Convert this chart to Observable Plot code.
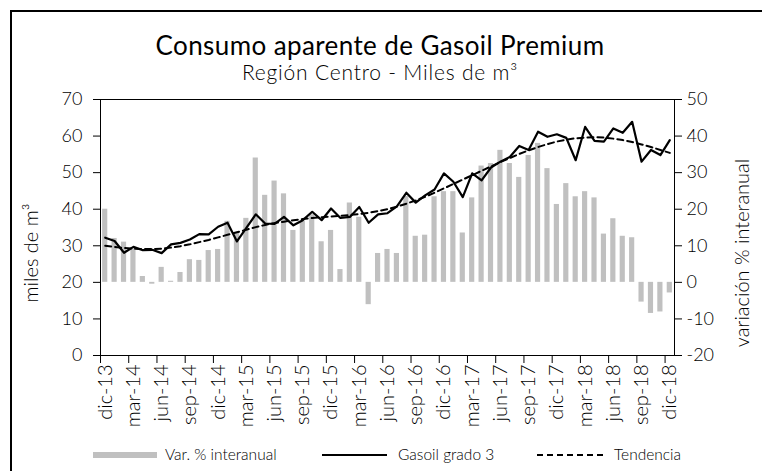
<!DOCTYPE html>
<html>
<head>
<meta charset="utf-8">
<script src="https://cdn.jsdelivr.net/npm/d3@7"></script>
<script src="https://cdn.jsdelivr.net/npm/@observablehq/plot@0.6"></script>
<style>
  body { margin: 0; background: #fff; }
  #wrap { position: relative; width: 762px; height: 471px; overflow: hidden; background: #fff; font-family: Lato, "Open Sans", sans-serif; color: #000; }
  #frame { position: absolute; left: 10px; top: 10px; width: 800px; height: 520px; border-left: 2px solid #000; border-top: 2px solid #000; }
  .abs { position: absolute; white-space: nowrap; }
  #title { left: 0; width: 760px; top: 29px; text-align: center; font-size: 26px; letter-spacing: 0.4px; }
  #subtitle { left: 0; width: 760px; top: 59px; text-align: center; font-size: 21px; font-weight: 300; letter-spacing: 0.8px; }
  #chart { position: absolute; left: 0; top: 0; }
  .ylab { font-size: 20px; font-weight: 300; transform-origin: center; transform: translate(-50%, -50%) rotate(-90deg); }
  .leg { font-size: 15.5px; top: 445px; font-weight: 300; }
  .sw { position: absolute; }
</style>
</head>
<body>
<div id="wrap">
  <div id="frame"></div>
  <div id="title" class="abs">Consumo aparente de Gasoil Premium</div>
  <div id="subtitle" class="abs">Región Centro - Miles de m³</div>
  <div id="chart"></div>
  <div class="abs ylab" style="left:30px; top:253px;">miles de m³</div>
  <div class="abs ylab" style="left:741px; top:253px;">variación % interanual</div>
  <div class="sw" style="left:93px; top:452px; width:64px; height:6px; background:#c0c0c0;"></div>
  <div class="abs leg" style="left:165px;">Var. % interanual</div>
  <div class="sw" style="left:322px; top:454px; width:65px; height:0; border-top:2px solid #000;"></div>
  <div class="abs leg" style="left:398px;">Gasoil grado 3</div>
  <div class="sw" style="left:537px; top:454px; width:66px; height:0; border-top:2px dashed #000;"></div>
  <div class="abs leg" style="left:614px;">Tendencia</div>
</div>
<script>
const monthNames = ["ene","feb","mar","abr","may","jun","jul","ago","sep","oct","nov","dic"];
const startYear = 2013, startMonth = 11; // dic-13
const nMonths = 61;
const months = Array.from({length: nMonths}, (_, i) => {
  const m = (startMonth + i) % 12;
  const y = startYear + Math.floor((startMonth + i) / 12);
  return monthNames[m] + "-" + String(y).slice(2);
});

// Var. % interanual (right axis)
const varInteranual = [
  20, 12, 11, 9, 1.6, -0.5, 4.1, 0.3, 2.7, 6.2, 6.0, 8.7, 9.0,
  16.7, 13.7, 17.5, 34, 23.8, 27.7, 24.2, 14.2, 16.7, 18.5, 11.1, 14.2,
  3.5, 21.7, 17.8, -6.1, 7.9, 9.0, 7.9, 23.5, 12.6, 12.9, 23.4, 24.8,
  24.8, 13.5, 23.1, 31.8, 32.5, 36.1, 32.5, 28.7, 34.7, 38, 31.1, 21.3,
  27, 23.4, 24.8, 23.1, 13.2, 17.4, 12.6, 12.2, -5.4, -8.5, -8.1, -2.9
];

// Gasoil grado 3 (miles de m3, left axis)
const gasoil = [
  32.2, 31.3, 28.1, 29.7, 28.8, 28.9, 28.0, 30.4, 30.8, 31.7, 33.2, 33.1, 35.2,
  36.3, 31.2, 34.9, 38.6, 36.1, 36.0, 37.9, 35.6, 37.0, 39.3, 37.0, 40.2,
  37.6, 37.9, 40.6, 36.3, 38.6, 38.9, 40.8, 44.5, 41.8, 43.8, 45.4, 49.8,
  47.5, 43.3, 49.8, 47.9, 51.4, 53.0, 54.3, 57.3, 56.2, 61.2, 59.8, 60.5,
  59.5, 53.4, 62.5, 58.7, 58.5, 62.1, 60.9, 63.9, 53.0, 56.2, 54.8, 58.9
];

// Tendencia
const tendencia = [
  30.0, 29.7, 29.4, 29.2, 29.1, 29.1, 29.2, 29.5, 29.9, 30.4, 31.0, 31.6, 32.3,
  33.0, 33.7, 34.4, 35.1, 35.7, 36.2, 36.6, 37.0, 37.3, 37.6, 37.8, 38.0,
  38.2, 38.4, 38.7, 39.0, 39.5, 40.0, 40.7, 41.5, 42.4, 43.4, 44.5, 45.7,
  46.9, 48.1, 49.3, 50.5, 51.7, 52.9, 54.0, 55.1, 56.1, 57.0, 57.8, 58.5,
  59.0, 59.4, 59.6, 59.7, 59.6, 59.3, 58.9, 58.4, 57.7, 57.0, 56.2, 55.4
];

const leftTicks = [0, 10, 20, 30, 40, 50, 60, 70];
const rightOffset = 20; // right axis -20..50 maps onto left 0..70
const tickLabels = ["dic-13","mar-14","jun-14","sep-14","dic-14","mar-15","jun-15","sep-15","dic-15","mar-16","jun-16","sep-16","dic-16","mar-17","jun-17","sep-17","dic-17","mar-18","jun-18","sep-18","dic-18"];

const data = months.map((m, i) => ({m, v: varInteranual[i], g: gasoil[i], t: tendencia[i]}));

const W = 762, H = 471, mL = 100, mR = 88, mT = 99, mB = 116;
const step = (W - mL - mR) / nMonths;

const chart = Plot.plot({
  width: W, height: H,
  marginLeft: mL, marginRight: mR, marginTop: mT, marginBottom: mB,
  style: {fontFamily: "Lato, 'Open Sans', sans-serif", color: "#000", background: "none", overflow: "visible"},
  x: {type: "band", domain: months, paddingInner: 0.45, paddingOuter: 0.225, round: false, axis: null},
  y: {domain: [0, 70], axis: null},
  marks: [
    Plot.barY(data, {x: "m", y1: rightOffset, y2: d => d.v + rightOffset, fill: "#c0c0c0"}),
    Plot.line(data, {x: "m", y: "t", stroke: "#000", strokeWidth: 2, strokeDasharray: "6,4"}),
    Plot.line(data, {x: "m", y: "g", stroke: "#000", strokeWidth: 2.2}),
    Plot.frame({stroke: "#000", strokeWidth: 1}),
    Plot.axisY({anchor: "left", ticks: leftTicks, tickSize: 7, tickPadding: 11, fontSize: 18, fontWeight: 300, label: null, tickFormat: d => String(d)}),
    Plot.axisY({anchor: "right", ticks: leftTicks, tickSize: 7, tickPadding: 5, fontSize: 18, fontWeight: 300, label: null, tickFormat: d => String(d - rightOffset)}),
    Plot.axisX({ticks: tickLabels, tickSize: 8, tickFormat: () => "", dx: -step / 2, label: null}),
    Plot.axisX({ticks: tickLabels, tickSize: 0, tickPadding: 9, tickRotate: -90, fontSize: 20, fontWeight: 300, label: null})
  ]
});
document.getElementById("chart").appendChild(chart);
</script>
</body>
</html>
